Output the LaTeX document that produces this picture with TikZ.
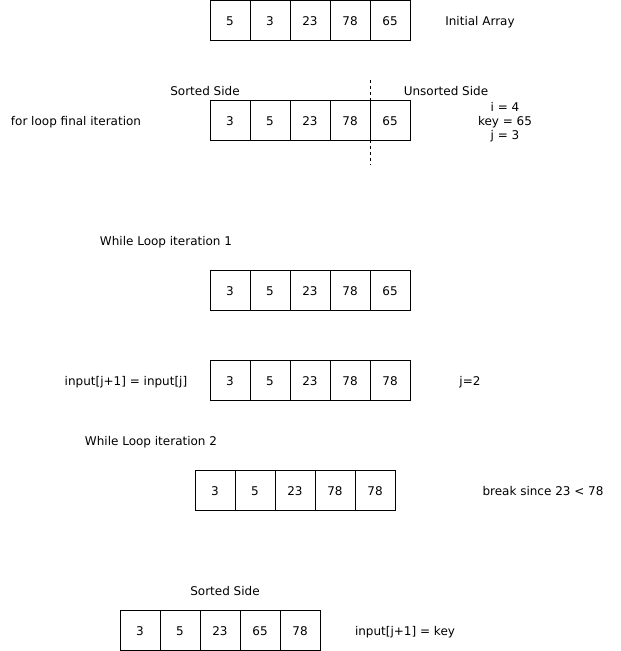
\documentclass[tikz,border=0pt]{standalone}
\usepackage{fontspec}
\setmainfont{DejaVu Sans}
\usetikzlibrary{positioning}

\begin{document}
\begin{tikzpicture}
	[x=1pt, y=-1pt, on grid, node distance=40pt,
	 every node/.style={font=\fontsize{12pt}{14pt}\selectfont},
	 cell/.style={draw, minimum size=40pt, inner sep=0pt, text height=10.5pt, text depth=0pt},
	 lbl/.style={inner sep=0pt, text height=10.5pt, text depth=0pt},
	 vars/.style={inner sep=0pt, align=center}]
   \useasboundingbox (0,0) rectangle (621,651);

   % initial array
   \node[cell] (a_1) at (230,20) {5};
   \node[cell] (a_2) [right=of a_1] {3};
   \node[cell] (a_3) [right=of a_2] {23};
   \node[cell] (a_4) [right=of a_3] {78};
   \node[cell] (a_5) [right=of a_4] {65};
   \node[lbl] (init) at (480,20) {Initial Array};

   % for loop final iteration
   \node[cell] (b_1) at (230,120) {3};
   \node[cell] (b_2) [right=of b_1] {5};
   \node[cell] (b_3) [right=of b_2] {23};
   \node[cell] (b_4) [right=of b_3] {78};
   \node[cell] (b_5) [right=of b_4] {65};
   \node[lbl] (forlbl) at (76,120) {for loop final iteration};
   \node[lbl] (sorted_1) at (205,90) {Sorted Side};
   \node[lbl] (unsorted) at (446,90) {Unsorted Side};
   \node[vars] (vars_1) at (505,122) {i = 4\\key = 65\\j = 3};
   \coordinate (d_top) at (370,80);
   \coordinate (d_bot) at (370,165);
   \draw[dashed] (d_top) -- (d_bot);

   % while loop iteration 1
   \node[lbl] (while_1) at (166,240) {While Loop iteration 1};
   \node[cell] (c_1) at (230,290) {3};
   \node[cell] (c_2) [right=of c_1] {5};
   \node[cell] (c_3) [right=of c_2] {23};
   \node[cell] (c_4) [right=of c_3] {78};
   \node[cell] (c_5) [right=of c_4] {65};

   \node[cell] (d_1) at (230,380) {3};
   \node[cell] (d_2) [right=of d_1] {5};
   \node[cell] (d_3) [right=of d_2] {23};
   \node[cell] (d_4) [right=of d_3] {78};
   \node[cell] (d_5) [right=of d_4] {78};
   \node[lbl] (shift) at (126,380) {input[j+1] = input[j]};
   \node[lbl] (vars_2) at (470,380) {j=2};

   % while loop iteration 2
   \node[lbl] (while_2) at (151,440) {While Loop iteration 2};
   \node[cell] (e_1) at (215,490) {3};
   \node[cell] (e_2) [right=of e_1] {5};
   \node[cell] (e_3) [right=of e_2] {23};
   \node[cell] (e_4) [right=of e_3] {78};
   \node[cell] (e_5) [right=of e_4] {78};
   \node[lbl] (brk) at (543,490) {break since 23 < 78};

   % final result
   \node[lbl] (sorted_2) at (225,590) {Sorted Side};
   \node[cell] (f_1) at (140,630) {3};
   \node[cell] (f_2) [right=of f_1] {5};
   \node[cell] (f_3) [right=of f_2] {23};
   \node[cell] (f_4) [right=of f_3] {65};
   \node[cell] (f_5) [right=of f_4] {78};
   \node[lbl] (assign) at (405,630) {input[j+1] = key};
\end{tikzpicture}
\end{document}
